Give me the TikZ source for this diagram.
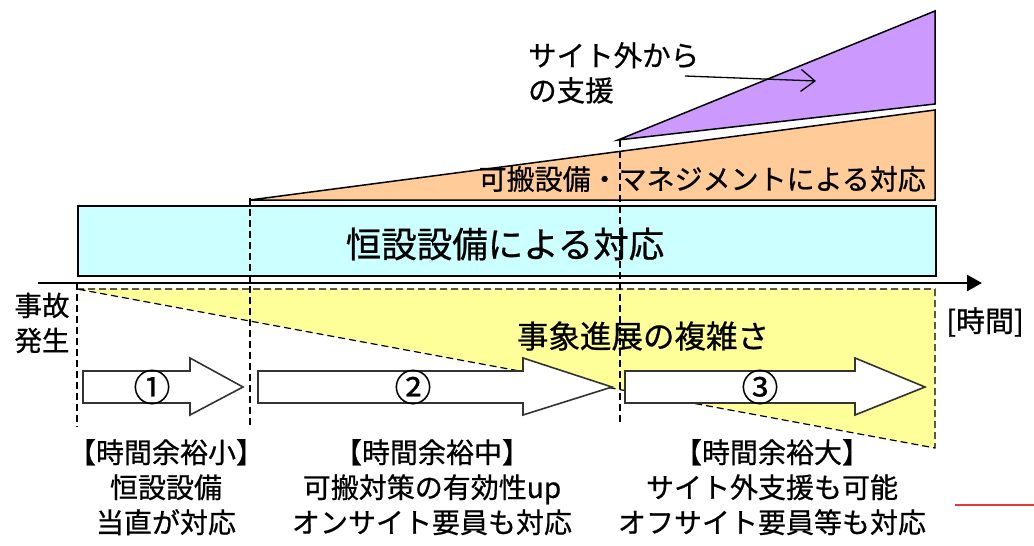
\documentclass[tikz,border=0pt]{standalone}
\usepackage{fontspec}
\setmainfont{Noto Sans CJK JP}[FakeBold=0.7]
\usetikzlibrary{arrows.meta}
\definecolor{cyanfill}{HTML}{CCFFFF}
\definecolor{orangefill}{HTML}{FFCC99}
\definecolor{purplefill}{HTML}{CC99FF}
\definecolor{yellowfill}{HTML}{FFFF99}
\definecolor{redline}{HTML}{E8383D}
\tikzset{
  outline/.style={draw=black, line width=1.5pt},
  guide/.style={draw=black, line width=1.2pt, dash pattern=on 7pt off 4pt},
  phasearrow/.style={draw=black!80, fill=white, line width=1.6pt, line join=miter},
  jp/.style={inner sep=0pt, font=\fontsize{28}{35}\selectfont, align=center},
  num/.style={inner sep=0pt, font=\fontsize{37}{38}\selectfont},
}
\begin{document}
\begin{tikzpicture}[x=1pt,y=-1pt]
\useasboundingbox (0,0) rectangle (1034,546);

% yellow complexity triangle
\fill[yellowfill] (77,289) -- (935,289) -- (935,448) -- cycle;
\draw[guide] (77,289) -- (935,289) -- (935,448) -- cycle;

% cyan box
\node[outline, fill=cyanfill, minimum width=858pt, minimum height=70pt, inner sep=0pt, anchor=north west] (fixed) at (77,205) {};
\node[inner sep=0pt, font=\fontsize{35.5}{40}\selectfont] (fixedlbl) at (505,244) {恒設設備による対応};

% orange portable region
\draw[outline, fill=orangefill, line join=miter] (250,200) -- (935,110) -- (935,200) -- cycle;
\node[inner sep=0pt, anchor=east, font=\fontsize{28}{32}\selectfont] (portlbl) at (926,179) {可搬設備・マネジメントによる対応};

% purple offsite region
\draw[outline, fill=purplefill, line join=miter] (618,140) -- (935,11) -- (935,104) -- cycle;
\node[inner sep=0pt, anchor=north west, align=left, font=\fontsize{28.5}{35}\selectfont] (offlbl) at (528,42) {サイト外から\\の支援};
\coordinate (offA) at (685,76);
\coordinate (offB) at (816,81);
\draw[line width=1.3pt, -{Straight Barb[length=14pt,width=22pt,line width=1.3pt]}] (offA) -- (offB);

% time axis
\coordinate (ax0) at (38,283);
\coordinate (ax1) at (982,283);
\draw[line width=2.4pt, -{Triangle[length=15pt,width=16pt]}] (ax0) -- (ax1);

% vertical guides
\draw[guide] (77,283) -- (77,427);
\draw[guide] (250,198) -- (250,427);
\draw[guide] (620,140) -- (620,422);

% labels near axis
\node[jp, font=\fontsize{27.5}{35}\selectfont] (start) at (42,323) {事故\\発生};
\node[inner sep=0pt, anchor=west, font=\fontsize{29}{30}\selectfont] (timelbl) at (946,322) {[時間]};
\node[inner sep=0pt, font=\fontsize{31.5}{35}\selectfont] (complex) at (643,336) {事象進展の複雑さ};

% phase arrows
\draw[phasearrow] (83,371) -- (190,371) -- (190,358) -- (243,387) -- (190,415) -- (190,403) -- (83,403) -- cycle;
\draw[phasearrow] (258,371) -- (523,371) -- (523,358) -- (612,387) -- (523,415) -- (523,403) -- (258,403) -- cycle;
\draw[phasearrow] (625,371) -- (855,371) -- (855,358) -- (925,387) -- (855,415) -- (855,403) -- (625,403) -- cycle;
\node[num] (p1) at (152,387) {①};
\node[num] (p2) at (413,387) {②};
\node[num] (p3) at (760,387) {③};

% bottom descriptions
\node[jp, anchor=north] (d1) at (166,439) {【時間余裕小】\\恒設設備\\当直が対応};
\node[jp, anchor=north] (d2) at (432,439) {【時間余裕中】\\可搬対策の有効性up\\オンサイト要員も対応};
\node[jp, anchor=north] (d3) at (772,439) {【時間余裕大】\\サイト外支援も可能\\オフサイト要員等も対応};

% red line
\coordinate (r0) at (955,505);
\coordinate (r1) at (1034,505);
\draw[redline, line width=2pt] (r0) -- (r1);
\end{tikzpicture}
\end{document}
